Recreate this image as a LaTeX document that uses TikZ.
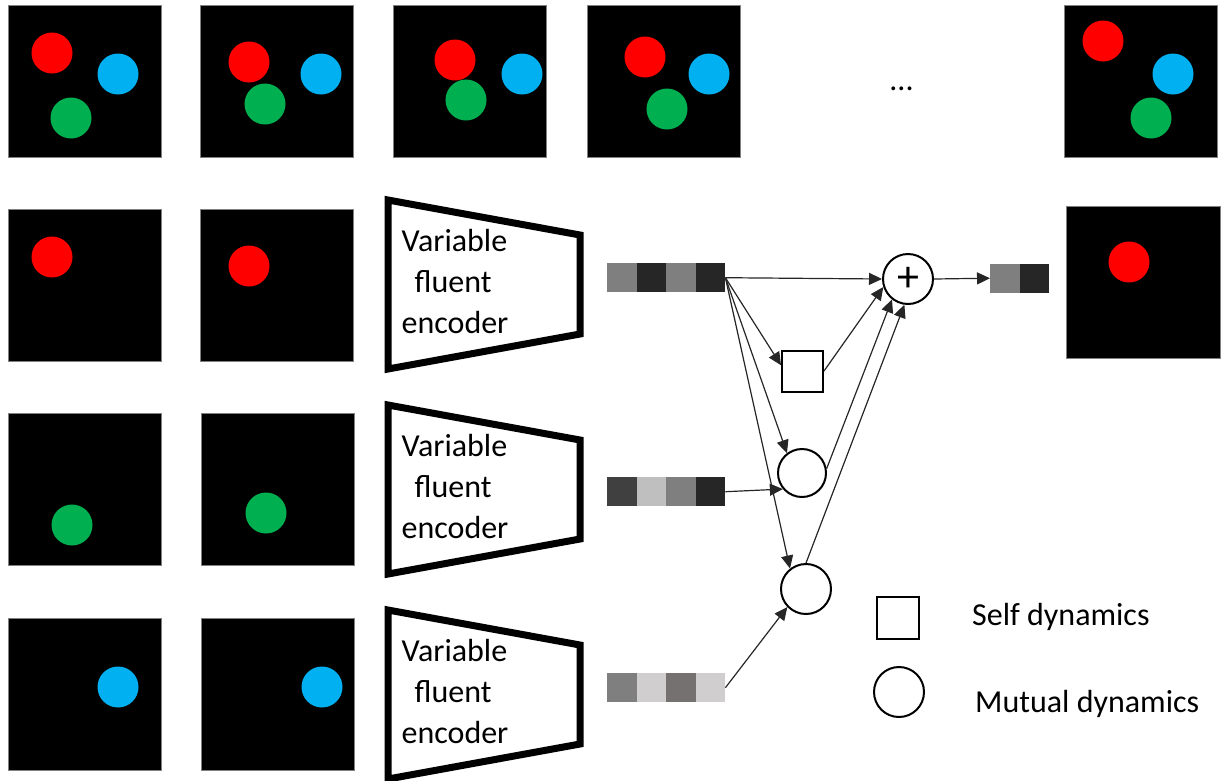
\documentclass[tikz,border=0pt]{standalone}
\usepackage{fontspec}
\setmainfont{Carlito}
\usetikzlibrary{arrows.meta}

\definecolor{ballred}{HTML}{FF0000}
\definecolor{ballblue}{HTML}{00B0F0}
\definecolor{ballgreen}{HTML}{00B050}
\definecolor{cellA}{HTML}{7F7F7F}
\definecolor{cellB}{HTML}{262626}
\definecolor{cellC}{HTML}{404040}
\definecolor{cellD}{HTML}{BFBFBF}
\definecolor{cellE}{HTML}{D0CECE}
\definecolor{cellF}{HTML}{767171}

% a feature vector: named anchor node plus its coloured cells
\newcommand{\featvec}[4]{% name, left x, top y, list of cell colours
  \node[vecbox, anchor=north west] (#1) at (#2,#3) {};
  \foreach \cc [count=\ii from 0] in {#4}
    \fill[\cc] (#2+29.5*\ii,#3) rectangle ++(29.5,29);
}

\begin{document}
\begin{tikzpicture}[x=1pt,y=-1pt,
  frame/.style={draw=black!50, line width=0.8pt, fill=black,
    minimum width=153pt, minimum height=152pt, inner sep=0pt},
  vecbox/.style={inner sep=0pt, minimum height=29pt, minimum width=118pt},
  encoder/.style={line width=7pt, line join=miter},
  enctext/.style={align=left, inner sep=0pt,
    font=\fontsize{32}{41}\selectfont},
  dynbox/.style={draw, line width=2pt, rectangle, inner sep=0pt, fill=white},
  dyncirc/.style={draw, line width=2pt, circle, inner sep=0pt, fill=white},
  conn/.style={draw=black!85, line width=1.2pt,
    -{Triangle[length=13pt,width=12pt]}},
  label/.style={font=\fontsize{32}{40}\selectfont, inner sep=0pt, anchor=base west}
]
\useasboundingbox (0,0) rectangle (1222,780);

% ---- top row: full scenes over time ----
\node[frame] (f11) at (84.5,81) {};
\node[frame] (f12) at (277,81) {};
\node[frame] (f13) at (470,81) {};
\node[frame] (f14) at (663.5,81) {};
\node[frame] (f15) at (1140.5,81) {};
\node[inner sep=0pt, anchor=base, font=\fontsize{32}{40}\selectfont] (dots) at (901.5,90.5) {...};

\fill[ballred] (52,53) circle[radius=20.5];
\fill[ballblue] (118,74) circle[radius=20.5];
\fill[ballgreen] (71,118) circle[radius=20.5];

\fill[ballred] (249,62) circle[radius=20.5];
\fill[ballblue] (321,74) circle[radius=20.5];
\fill[ballgreen] (265,104) circle[radius=20.5];

\fill[ballred] (455,60) circle[radius=20.5];
\fill[ballgreen] (466,100) circle[radius=20.5];
\fill[ballblue] (522,74) circle[radius=20.5];

\fill[ballred] (645,57) circle[radius=20.5];
\fill[ballblue] (709,74) circle[radius=20.5];
\fill[ballgreen] (667,109) circle[radius=20.5];

\fill[ballred] (1103,41) circle[radius=20.5];
\fill[ballblue] (1173,74) circle[radius=20.5];
\fill[ballgreen] (1151,118) circle[radius=20.5];

% ---- per-object rows ----
\node[frame] (f21) at (84.5,285) {};
\node[frame] (f22) at (277,285) {};
\fill[ballred] (52,257) circle[radius=20.5];
\fill[ballred] (249,266) circle[radius=20.5];

\node[frame] (f31) at (84.5,489) {};
\node[frame] (f32) at (278,489) {};
\fill[ballgreen] (72,525) circle[radius=20.5];
\fill[ballgreen] (266,513) circle[radius=20.5];

\node[frame] (f41) at (84.5,694) {};
\node[frame] (f42) at (278,694) {};
\fill[ballblue] (118,687) circle[radius=20.5];
\fill[ballblue] (322,687) circle[radius=20.5];

% predicted frame
\node[frame, minimum width=154pt] (fout) at (1143,282) {};
\fill[ballred] (1129,262) circle[radius=20.5];

% ---- encoders ----
\foreach \dy [count=\k] in {0,205,410}{
  \draw[encoder] (388,200+\dy) -- (580,235+\dy) -- (580,334+\dy) -- (388,369+\dy) -- cycle;
  \node[enctext] (enc\k) at (455,281+\dy) {Variable\\\hspace*{13pt}fluent\\encoder};
}

% ---- feature vectors ----
\featvec{v1}{607}{263}{cellA,cellB,cellA,cellB}
\featvec{v2}{607}{477}{cellC,cellD,cellA,cellB}
\featvec{v3}{607}{673}{cellA,cellE,cellF,cellE}
\node[vecbox, minimum width=59pt, anchor=north west] (out) at (990,263.5) {};
\fill[cellA] (990,263.5) rectangle ++(29.5,29);
\fill[cellB] (1019.5,263.5) rectangle ++(29.5,29);

% ---- dynamics units ----
\node[dynbox, minimum size=41pt] (sq) at (802.5,371) {};
\node[dyncirc, minimum size=48pt] (c1) at (802,473) {};
\node[dyncirc, minimum size=50pt] (c2) at (806,589) {};
\node[dyncirc, minimum size=50pt, font=\fontsize{44}{44}\selectfont] (plus) at (908,279) {+};

% ---- connectors ----
\draw[conn] (v1.east) -- (plus.west);
\draw[conn] (v1.east) -- (sq.165);
\draw[conn] (v1.east) -- (c1.127);
\draw[conn] (v1.east) -- (c2.128);
\draw[conn] (v2.east) -- (c1.220);
\draw[conn] (v3.east) -- (c2.224);
\draw[conn] (sq.east) -- (plus.198);
\draw[conn] (c1.10) -- (plus.232);
\draw[conn] (c2.north) -- (plus.262);
\draw[conn] (plus.east) -- (out.west);

% ---- legend ----
\node[dynbox, minimum size=42pt] (lsq) at (898,617.5) {};
\node[dyncirc, minimum size=50pt] (lcirc) at (899,692) {};
\node[label] (lself) at (972,625) {Self dynamics};
\node[label] (lmut) at (975,712) {Mutual dynamics};
\end{tikzpicture}
\end{document}
